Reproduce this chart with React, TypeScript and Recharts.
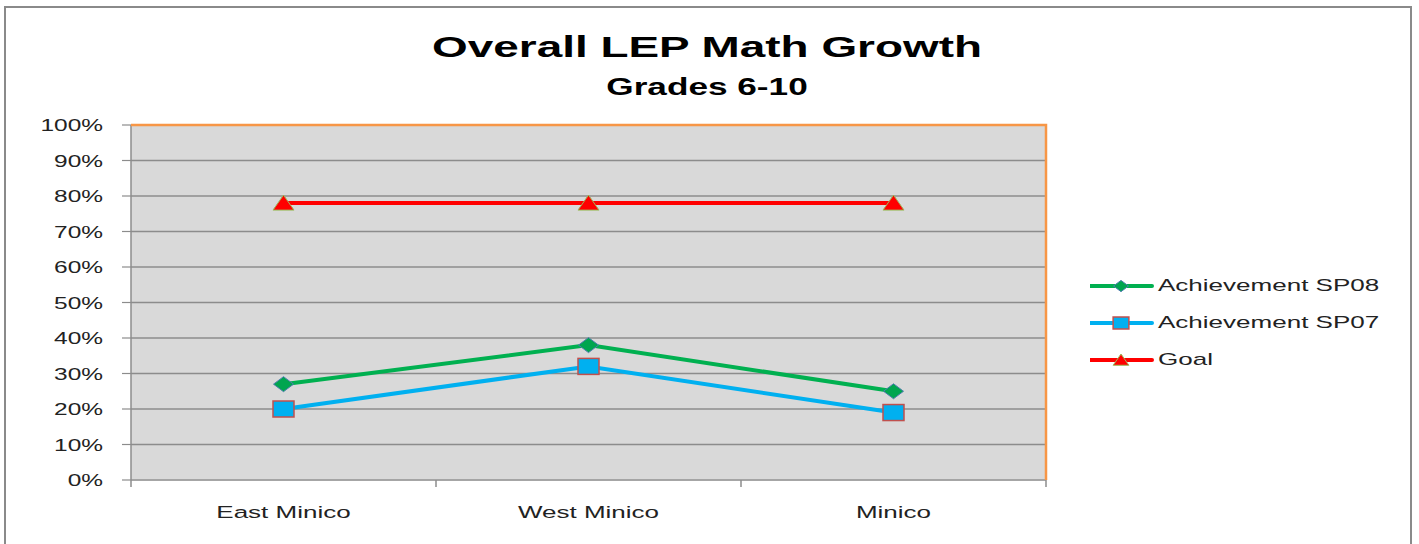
import React from 'react';
import { LineChart, Line, XAxis, YAxis, CartesianGrid, Legend } from 'recharts';

const categories = ['East Minico', 'West Minico', 'Minico'];
const sp08 = [27, 38, 25];
const sp07 = [20, 32, 19];
const goal = [78, 78, 78];
const yTicks = [0, 10, 20, 30, 40, 50, 60, 70, 80, 90, 100];
const seriesKeys = ['sp08', 'sp07', 'goal'];
const seriesNames = ['Achievement SP08', 'Achievement SP07', 'Goal'];
const seriesColors = ['#00b050', '#00b0f0', '#ff0000'];
const titleText = 'Overall LEP Math Growth';
const subtitleText = 'Grades 6-10';

const data = categories.map((c, i) => ({ name: c, sp08: sp08[i], sp07: sp07[i], goal: goal[i] }));

const W = 1419;
const H = 544;
const SX = 1.53;
const FONT = '"Liberation Sans", Arial, sans-serif';
const YAXIS_W = 60;
const XAXIS_H = 40;
const MARGIN = { top: 125, right: 373, bottom: 24, left: 71 };
const PLOT_LEFT = MARGIN.left + YAXIS_W;
const PLOT_RIGHT = W - MARGIN.right;
const PLOT_TOP = MARGIN.top;
const PLOT_BOTTOM = H - MARGIN.bottom - XAXIS_H;
const BAND = (PLOT_RIGHT - PLOT_LEFT) / categories.length;

type Shape = 'diamond' | 'square' | 'triangle';
const shapes: Record<string, Shape> = { sp08: 'diamond', sp07: 'square', goal: 'triangle' };

function Marker({ shape, cx, cy, s = 1 }: { shape: Shape; cx: number; cy: number; s?: number }) {
  if (shape === 'diamond') {
    const w = 10 * s, h = 7.5 * s;
    return (
      <polygon
        points={`${cx - w},${cy} ${cx},${cy - h} ${cx + w},${cy} ${cx},${cy + h}`}
        fill="#00a54f"
        stroke="#4f7fae"
        strokeWidth={1}
      />
    );
  }
  if (shape === 'square') {
    const w = 10.5 * s, h = 8 * s;
    return <rect x={cx - w} y={cy - h} width={2 * w} height={2 * h} fill="#00b0f0" stroke="#c0504d" strokeWidth={1.5} />;
  }
  const w = 10.5 * s;
  return (
    <polygon
      points={`${cx},${cy - 8 * s} ${cx + w},${cy + 7 * s} ${cx - w},${cy + 7 * s}`}
      fill="#ff0000"
      stroke="#9bbb59"
      strokeWidth={1}
    />
  );
}

const makeDot = (key: string) => (props: any) => {
  const { cx, cy, index } = props;
  if (cx == null || cy == null) return <g key={`${key}-${index}`} />;
  return (
    <g key={`${key}-${index}`}>
      <Marker shape={shapes[key]} cx={cx} cy={cy} />
    </g>
  );
};

const YTick = (props: any) => {
  const { x, y, payload } = props;
  return (
    <g transform={`translate(${x},${y + 6}) scale(${SX},1)`}>
      <text x={0} y={0} textAnchor="end" fontFamily={FONT} fontSize={16} fill="#222">
        {`${payload.value}%`}
      </text>
    </g>
  );
};

const XTick = (props: any) => {
  const { x, payload, index } = props;
  const half = BAND / 2;
  return (
    <g>
      <line x1={x - half} x2={x - half} y1={PLOT_BOTTOM} y2={PLOT_BOTTOM + 7} stroke="#8c8c8c" strokeWidth={1.5} />
      {index === categories.length - 1 && (
        <line x1={x + half} x2={x + half} y1={PLOT_BOTTOM} y2={PLOT_BOTTOM + 7} stroke="#8c8c8c" strokeWidth={1.5} />
      )}
      <g transform={`translate(${x},${PLOT_BOTTOM + 38}) scale(${SX},1)`}>
        <text x={0} y={0} textAnchor="middle" fontFamily={FONT} fontSize={17} fill="#222">
          {payload.value}
        </text>
      </g>
    </g>
  );
};

const LegendContent = (props: any) => {
  const payload: any[] = props.payload || [];
  const items = [...payload].sort(
    (a, b) => seriesKeys.indexOf(a.dataKey) - seriesKeys.indexOf(b.dataKey)
  );
  return (
    <div>
      {items.map((it) => (
        <div key={it.dataKey} style={{ height: 36.7, display: 'flex', alignItems: 'center', position: 'relative' }}>
          <svg width={64} height={20} style={{ display: 'block' }}>
            <line x1={0} x2={62} y1={10} y2={10} stroke={it.color} strokeWidth={4} strokeLinecap="round" />
            <Marker shape={shapes[it.dataKey]} cx={31} cy={10} s={0.75} />
          </svg>
          <span
            style={{
              position: 'absolute',
              left: 68,
              top: '50%',
              transform: `translateY(-50%) scaleX(${SX})`,
              transformOrigin: 'left center',
              fontFamily: FONT,
              fontSize: 17,
              color: '#222',
              whiteSpace: 'nowrap',
              lineHeight: '20px',
            }}
          >
            {it.value}
          </span>
        </div>
      ))}
    </div>
  );
};

export default function App() {
  return (
    <div style={{ position: 'absolute', left: 0, top: 0, width: W, height: H, overflow: 'hidden', background: '#fff' }}>
      <div
        style={{
          position: 'absolute',
          left: 4,
          top: 6,
          width: 1404,
          height: 600,
          border: '2px solid #8a8a8a',
        }}
      />
      <div style={{ position: 'absolute', left: 0, top: 0 }}>
        <LineChart width={W} height={H} data={data} margin={MARGIN}>
          <CartesianGrid horizontal vertical={false} stroke="#8c8c8c" strokeWidth={1.5} fill="#d9d9d9" fillOpacity={1} />
          <XAxis
            dataKey="name"
            type="category"
            scale="band"
            height={XAXIS_H}
            axisLine={{ stroke: '#a6a6a6', strokeWidth: 1.5 }}
            tickLine={false}
            tick={<XTick />}
            interval={0}
          />
          <YAxis
            type="number"
            domain={[0, 100]}
            ticks={yTicks}
            width={YAXIS_W}
            axisLine={{ stroke: '#8c8c8c', strokeWidth: 1.5 }}
            tickLine={{ stroke: '#8c8c8c', strokeWidth: 1.2 }}
            tickSize={9}
            tickMargin={19}
            tick={<YTick />}
            interval={0}
          />
          <Legend
            content={<LegendContent />}
            layout="horizontal"
            align="center"
            verticalAlign="middle"
            wrapperStyle={{ position: 'absolute', left: 1090, top: 268, width: 320 }}
          />
          {seriesKeys.map((k, i) => (
            <Line
              key={k}
              dataKey={k}
              name={seriesNames[i]}
              stroke={seriesColors[i]}
              strokeWidth={4}
              dot={makeDot(k)}
              activeDot={false}
              isAnimationActive={false}
            />
          ))}
        </LineChart>
      </div>
      <svg width={W} height={H} style={{ position: 'absolute', left: 0, top: 0, pointerEvents: 'none' }}>
        <polyline
          points={`${PLOT_LEFT},${PLOT_TOP} ${PLOT_RIGHT},${PLOT_TOP} ${PLOT_RIGHT},${PLOT_BOTTOM}`}
          fill="none"
          stroke="#f79646"
          strokeWidth={2.5}
        />
        <g transform={`translate(707,57) scale(${SX},1)`}>
          <text x={0} y={0} textAnchor="middle" fontFamily={FONT} fontWeight="bold" fontSize={30} fill="#000">
            {titleText}
          </text>
        </g>
        <g transform={`translate(707,95) scale(${SX},1)`}>
          <text x={0} y={0} textAnchor="middle" fontFamily={FONT} fontWeight="bold" fontSize={23} fill="#000">
            {subtitleText}
          </text>
        </g>
      </svg>
    </div>
  );
}
